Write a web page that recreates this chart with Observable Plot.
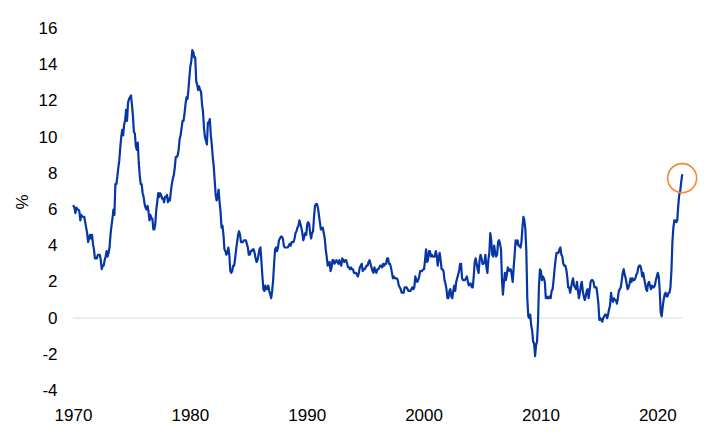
<!DOCTYPE html>
<html>
<head>
<meta charset="utf-8">
<script src="https://cdn.jsdelivr.net/npm/d3@7"></script>
<script src="https://cdn.jsdelivr.net/npm/@observablehq/plot@0.6"></script>
<style>
  html, body { margin: 0; padding: 0; background: #fff; }
  #chart svg { display: block; }
</style>
</head>
<body>
<div id="chart"></div>
<script>
// US consumer price inflation, % year on year, monthly from January 1970
const startYear = 1970;
const cpiYoY = [
  // 1970
  6.2, 6.1, 5.8, 6.1, 6.0, 6.0, 5.9, 5.4, 5.7, 5.6, 5.6, 5.6,
  // 1971
  5.3, 5.0, 4.7, 4.2, 4.4, 4.6, 4.4, 4.6, 4.1, 3.8, 3.3, 3.3,
  // 1972
  3.3, 3.5, 3.5, 3.5, 3.2, 2.7, 2.9, 2.9, 3.2, 3.4, 3.7, 3.4,
  // 1973
  3.6, 3.9, 4.6, 5.1, 5.5, 6.0, 5.7, 7.4, 7.4, 7.8, 8.3, 8.7,
  // 1974
  9.4, 10.0, 10.4, 10.1, 10.7, 10.9, 11.5, 10.9, 11.9, 12.1, 12.2, 12.3,
  // 1975
  11.8, 11.2, 10.3, 10.2, 9.5, 9.3, 9.7, 8.6, 7.9, 7.4, 7.4, 6.9,
  // 1976
  6.7, 6.3, 6.1, 6.0, 6.2, 5.9, 5.4, 5.7, 5.5, 5.5, 4.9, 4.9,
  // 1977
  5.2, 6.0, 6.4, 6.9, 6.7, 6.9, 6.8, 6.6, 6.6, 6.4, 6.7, 6.7,
  // 1978
  6.8, 6.4, 6.6, 6.5, 7.0, 7.4, 7.7, 7.9, 8.3, 8.9, 8.9, 9.0,
  // 1979
  9.3, 9.9, 10.1, 10.5, 10.9, 10.9, 11.3, 11.8, 12.2, 12.1, 12.6, 13.3,
  // 1980
  13.9, 14.2, 14.8, 14.7, 14.4, 14.4, 13.1, 12.9, 12.6, 12.8, 12.6, 12.5,
  // 1981
  11.8, 11.4, 10.5, 10.0, 9.8, 9.6, 10.8, 10.8, 11.0, 10.1, 9.6, 8.9,
  // 1982
  8.4, 7.6, 6.8, 6.5, 6.7, 7.1, 6.4, 5.9, 5.0, 5.1, 4.6, 3.8,
  // 1983
  3.7, 3.5, 3.6, 3.9, 3.5, 2.6, 2.5, 2.6, 2.9, 2.9, 3.3, 3.8,
  // 1984
  4.2, 4.6, 4.8, 4.6, 4.2, 4.2, 4.2, 4.3, 4.3, 4.3, 4.1, 3.9,
  // 1985
  3.5, 3.5, 3.7, 3.7, 3.8, 3.8, 3.6, 3.3, 3.1, 3.2, 3.5, 3.8,
  // 1986
  3.9, 3.1, 2.3, 1.6, 1.5, 1.8, 1.6, 1.6, 1.8, 1.5, 1.3, 1.1,
  // 1987
  1.5, 2.1, 3.0, 3.8, 3.9, 3.7, 3.9, 4.3, 4.4, 4.5, 4.5, 4.4,
  // 1988
  4.0, 3.9, 3.9, 3.9, 3.9, 4.0, 4.1, 4.0, 4.2, 4.2, 4.2, 4.4,
  // 1989
  4.7, 4.8, 5.0, 5.1, 5.4, 5.2, 5.0, 4.7, 4.3, 4.5, 4.7, 4.6,
  // 1990
  5.2, 5.3, 5.2, 4.7, 4.4, 4.7, 4.8, 5.6, 6.2, 6.3, 6.3, 6.1,
  // 1991
  5.7, 5.3, 4.9, 4.9, 5.0, 4.7, 4.4, 3.8, 3.4, 2.9, 3.0, 3.1,
  // 1992
  2.6, 2.8, 3.2, 3.2, 3.0, 3.1, 3.2, 3.1, 3.0, 3.2, 3.0, 2.9,
  // 1993
  3.3, 3.2, 3.1, 3.2, 3.2, 3.0, 2.8, 2.8, 2.7, 2.8, 2.7, 2.7,
  // 1994
  2.5, 2.5, 2.5, 2.4, 2.3, 2.5, 2.8, 2.9, 3.0, 2.6, 2.7, 2.7,
  // 1995
  2.8, 2.9, 2.9, 3.1, 3.2, 3.0, 2.8, 2.6, 2.5, 2.8, 2.6, 2.5,
  // 1996
  2.7, 2.7, 2.8, 2.9, 2.9, 2.8, 3.0, 2.9, 3.0, 3.0, 3.3, 3.3,
  // 1997
  3.0, 3.0, 2.8, 2.5, 2.2, 2.3, 2.2, 2.2, 2.2, 2.1, 1.8, 1.7,
  // 1998
  1.6, 1.4, 1.4, 1.4, 1.7, 1.7, 1.7, 1.6, 1.5, 1.5, 1.5, 1.6,
  // 1999
  1.7, 1.6, 1.7, 2.3, 2.1, 2.0, 2.1, 2.3, 2.6, 2.6, 2.6, 2.7,
  // 2000
  2.7, 3.2, 3.8, 3.1, 3.2, 3.7, 3.7, 3.4, 3.5, 3.4, 3.4, 3.4,
  // 2001
  3.7, 3.5, 2.9, 3.3, 3.6, 3.2, 2.7, 2.7, 2.6, 2.1, 1.9, 1.6,
  // 2002
  1.1, 1.1, 1.5, 1.6, 1.2, 1.1, 1.5, 1.8, 1.5, 2.0, 2.2, 2.4,
  // 2003
  2.6, 3.0, 3.0, 2.2, 2.1, 2.1, 2.1, 2.2, 2.3, 2.0, 1.8, 1.9,
  // 2004
  1.9, 1.7, 1.7, 2.3, 3.1, 3.3, 3.0, 2.7, 2.5, 3.2, 3.5, 3.3,
  // 2005
  3.0, 3.0, 3.1, 3.5, 2.8, 2.5, 3.2, 3.6, 4.7, 4.3, 3.5, 3.4,
  // 2006
  4.0, 3.6, 3.4, 3.5, 4.2, 4.3, 4.1, 3.8, 2.1, 1.3, 2.0, 2.5,
  // 2007
  2.1, 2.4, 2.8, 2.6, 2.7, 2.7, 2.4, 2.0, 2.8, 3.5, 4.3, 4.1,
  // 2008
  4.3, 4.0, 4.0, 3.9, 4.2, 5.0, 5.6, 5.4, 4.9, 3.7, 1.1, 0.1,
  // 2009
  0.0, 0.2, -0.4, -0.7, -1.3, -1.4, -2.1, -1.5, -1.3, -0.2, 1.8, 2.7,
  // 2010
  2.6, 2.1, 2.3, 2.2, 2.0, 1.1, 1.2, 1.1, 1.1, 1.2, 1.1, 1.5,
  // 2011
  1.6, 2.1, 2.7, 3.2, 3.6, 3.6, 3.6, 3.8, 3.9, 3.5, 3.4, 3.0,
  // 2012
  2.9, 2.9, 2.7, 2.3, 1.7, 1.7, 1.4, 1.7, 2.0, 2.2, 1.8, 1.7,
  // 2013
  1.6, 2.0, 1.5, 1.1, 1.4, 1.8, 2.0, 1.5, 1.2, 1.0, 1.2, 1.5,
  // 2014
  1.6, 1.1, 1.5, 2.0, 2.1, 2.1, 2.0, 1.7, 1.7, 1.7, 1.3, 0.8,
  // 2015
  -0.1, 0.0, -0.1, -0.2, 0.0, 0.1, 0.2, 0.2, 0.0, 0.2, 0.5, 0.7,
  // 2016
  1.4, 1.0, 0.9, 1.1, 1.0, 1.0, 0.8, 1.1, 1.5, 1.6, 1.7, 2.1,
  // 2017
  2.5, 2.7, 2.4, 2.2, 1.9, 1.6, 1.7, 1.9, 2.2, 2.0, 2.2, 2.1,
  // 2018
  2.1, 2.2, 2.4, 2.5, 2.8, 2.9, 2.9, 2.7, 2.3, 2.5, 2.2, 1.9,
  // 2019
  1.6, 1.5, 1.9, 2.0, 1.8, 1.6, 1.8, 1.7, 1.7, 1.8, 2.1, 2.3,
  // 2020
  2.5, 2.3, 1.5, 0.3, 0.1, 0.6, 1.0, 1.3, 1.4, 1.2, 1.2, 1.4,
  // 2021
  1.4, 1.7, 2.6, 4.2, 5.0, 5.4, 5.4, 5.3, 5.4, 6.2, 6.8, 7.0,
  // 2022
  7.5, 7.9
];
const yTicks = [-4, -2, 0, 2, 4, 6, 8, 10, 12, 14, 16];
const xTicks = [1970, 1980, 1990, 2000, 2010, 2020];
const yLabel = "%";

const data = cpiYoY.map((v, i) => ({ t: startYear + i / 12, v }));
const last = data[data.length - 1];

const chart = Plot.plot({
  width: 727,
  height: 447,
  marginLeft: 73,
  marginRight: 44,
  marginTop: 28,
  marginBottom: 57,
  style: { fontFamily: "Arial, 'Liberation Sans', sans-serif", fontSize: "17px", color: "#000", background: "#fff" },
  x: { domain: [1970, 2022.2], ticks: xTicks, tickFormat: d => String(d), tickSize: 0, tickPadding: 18, label: null },
  y: { domain: [-4, 16], ticks: yTicks, tickFormat: d => String(d), tickSize: 0, tickPadding: 16, label: null },
  marks: [
    Plot.ruleY([0], { stroke: "#dcdcdc", strokeWidth: 1 }),
    Plot.line(data, { x: "t", y: "v", stroke: "#0536a3", strokeWidth: 2.2 }),
    Plot.dot([last], { x: "t", y: "v", r: 14.5, dy: 3, fill: "none", stroke: "#f28a3a", strokeWidth: 1.6 }),
    Plot.text([yLabel], { frameAnchor: "left", dx: -51, rotate: -90, fontSize: 17, fill: "#000" })
  ]
});
document.getElementById("chart").appendChild(chart);
</script>
</body>
</html>
